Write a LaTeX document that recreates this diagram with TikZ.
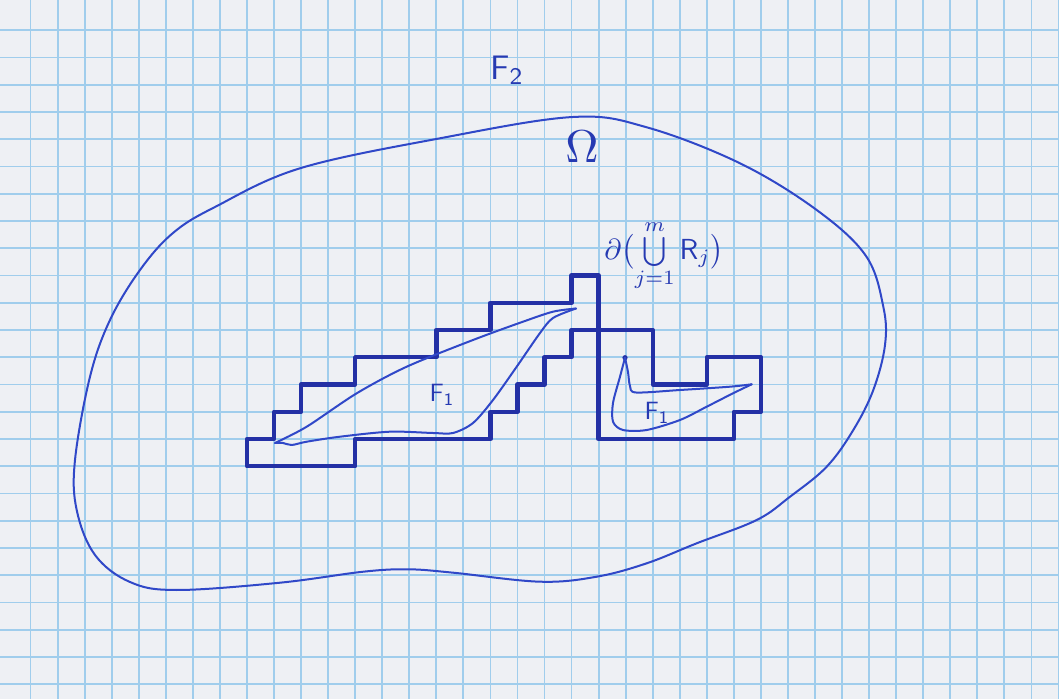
\documentclass[tikz,border=0pt]{standalone}
\usepackage{amsmath}
\definecolor{paper}{RGB}{238,240,244}
\definecolor{gridblue}{RGB}{160,205,236}
\definecolor{ink}{RGB}{48,72,200}
\definecolor{thickink}{RGB}{35,48,165}
\definecolor{labink}{RGB}{38,58,178}
\tikzset{
  gridline/.style={gridblue, line width=0.9pt},
  thinink/.style={ink, line width=1pt, line cap=round, line join=round},
  boldink/.style={thickink, line width=2.2pt, line cap=round, line join=round},
  lab/.style={labink, inner sep=0pt},
}
\begin{document}
\begin{tikzpicture}[x=0.5pt,y=-0.5pt]
\fill[paper] (0,0) rectangle (1059,699);
\useasboundingbox (0,0) rectangle (1059,699);
% grid paper
\foreach \i in {1,...,39} \draw[gridline] ({3.5+27.05*\i},0) -- ({3.5+27.05*\i},699);
\foreach \j in {1,...,25} \draw[gridline] (0,{3+27.25*\j}) -- (1059,{3+27.25*\j});
% Omega boundary
\draw[thinink] plot[smooth cycle, tension=0.6] coordinates {
 (573,117) (646.7,127.3) (740,163.3) (816.7,210) (866,256) (883.3,306.7) (885,345)
 (873.3,390) (853.3,430) (826.7,466.7) (790,496.7) (756.7,520) (696.7,543.3)
 (646.7,563.3) (596.7,576.7) (540,581.7) (453.3,572.7) (408.3,569.3) (363.3,571.7)
 (280,582.7) (176.7,590) (130,582) (95,555) (76.7,510) (75,460) (90,376.7)
 (110,320) (140,270) (173,233) (215,207) (300,168.3) (440,138.3)};
% staircase boundary of the union of rectangles
\begin{scope}[shift={(3.5,3)}, x=13.525pt, y=-13.625pt]
\draw[boldink] (9,17) -- (13,17) -- (13,16) -- (18,16) -- (18,15) -- (19,15)
  -- (19,14) -- (20,14) -- (20,13) -- (21,13) -- (21,12) -- (24,12) -- (24,14)
  -- (26,14) -- (26,13) -- (28,13) -- (28,15) -- (27,15) -- (27,16) -- (22,16)
  -- (22,10) -- (21,10) -- (21,11) -- (18,11) -- (18,12) -- (16,12) -- (16,13)
  -- (13,13) -- (13,14) -- (11,14) -- (11,15) -- (10,15) -- (10,16) -- (9,16) -- cycle;
\end{scope}
% left F1 set
\draw[thinink] plot[smooth, tension=0.5] coordinates {
 (275,443) (306.7,426.7) (356.7,393.3) (406.7,366.7) (473,340) (523,321.7) (553,311.7) (576,308.5)};
\draw[thinink] plot[smooth, tension=0.5] coordinates {
 (576,308.5) (553,318) (540,333) (516.7,366.7) (493,400) (473,423) (453,433) (433,433)
 (390,431.7) (340,436.7) (306.7,441.7) (291.7,445) (283,443) (275,443)};
% right F1 set
\fill[thickink] (625,357.7) circle (2.6);
\draw[thinink] plot[smooth, tension=0.5] coordinates {
 (625,357.7) (628,372) (630,386) (636,392.5) (680,390) (730,386.7) (751.7,384.3)};
\draw[thinink] plot[smooth, tension=0.5] coordinates {
 (751.7,384.3) (733,393.3) (706.7,406.7) (680,420) (646.7,430) (623,430) (613,421.7)
 (613,403) (620,376.7) (625,357.7)};
% labels
\node[lab] (f2) at (507,70) {\scalebox{1.7}{$\mathsf{F}_{\mathsf{2}}$}};
\node[lab] (omega) at (582,147) {\scalebox{2.3}{$\Omega$}};
\node[lab] (bd) at (664,256)
  {\scalebox{1.45}{$\partial\bigl(\textstyle\bigcup\limits_{j=1}^{m}\mathsf{R}_j\bigr)$}};
\node[lab] (f1a) at (442,395) {\scalebox{1.25}{$\mathsf{F}_{\mathsf{1}}$}};
\node[lab] (f1b) at (657,413) {\scalebox{1.25}{$\mathsf{F}_{\mathsf{1}}$}};
\end{tikzpicture}
\end{document}
